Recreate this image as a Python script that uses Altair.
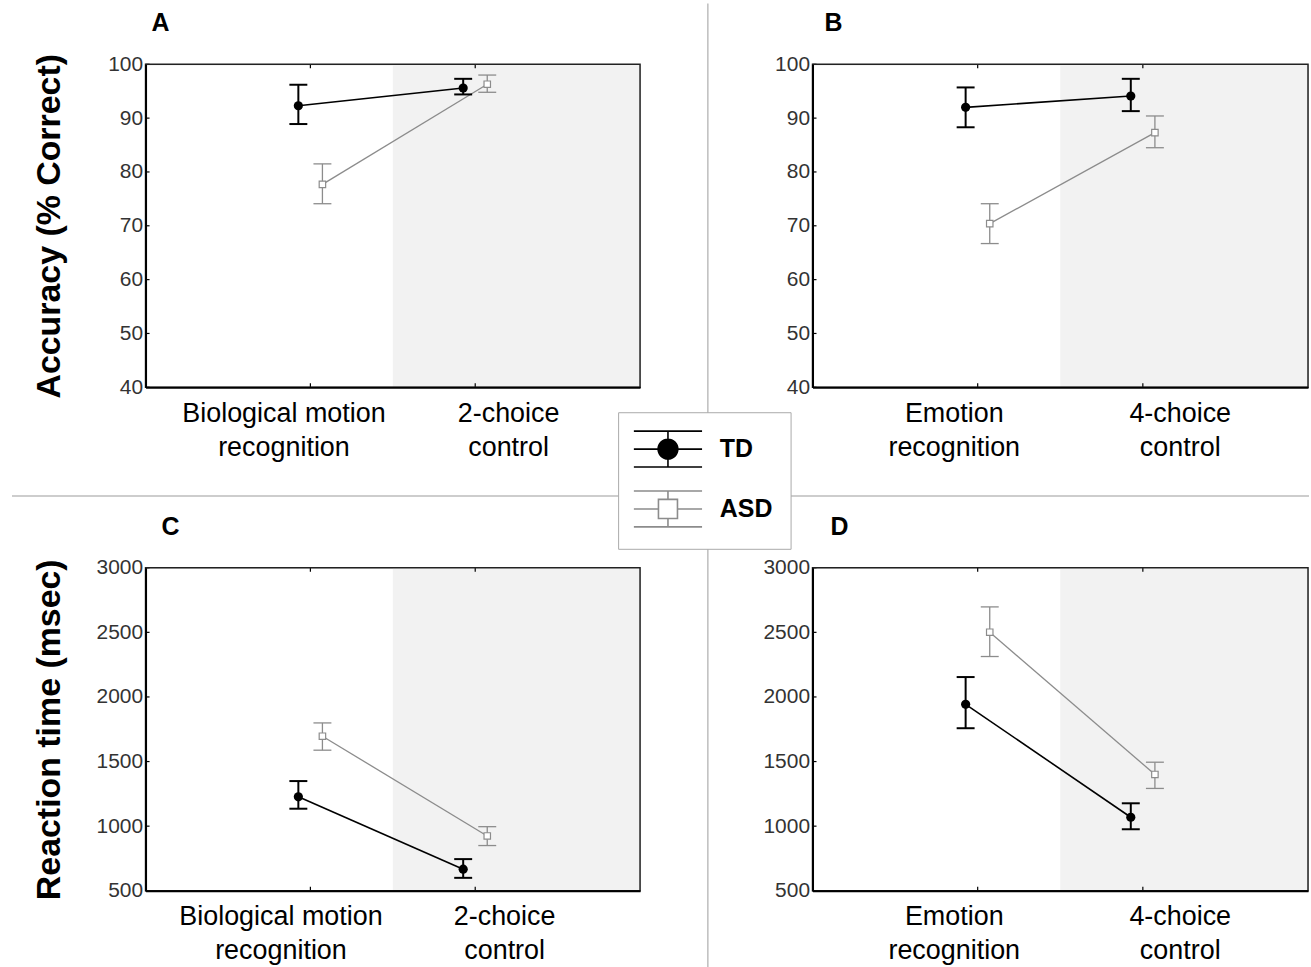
import json
import altair as alt
import pandas as pd

FONT = "Liberation Sans"

group_names = ["TD", "ASD"]
positions = [1, 2]
group_offsets = [-0.073, 0.073]
shade_range = [1.5, 3.0]

acc_ticks = [40, 50, 60, 70, 80, 90, 100]
rt_ticks = [500, 1000, 1500, 2000, 2500, 3000]

# Panel A: accuracy, biological motion
a_labels = [["Biological motion", "recognition"], ["2-choice", "control"]]
a_td_mean = [92.3, 95.6]
a_td_lo = [88.9, 94.4]
a_td_hi = [96.2, 97.3]
a_asd_mean = [77.7, 96.3]
a_asd_lo = [74.1, 94.8]
a_asd_hi = [81.5, 98.0]

# Panel B: accuracy, emotion
b_labels = [["Emotion", "recognition"], ["4-choice", "control"]]
b_td_mean = [92.0, 94.1]
b_td_lo = [88.3, 91.3]
b_td_hi = [95.7, 97.3]
b_asd_mean = [70.4, 87.3]
b_asd_lo = [66.7, 84.5]
b_asd_hi = [74.1, 90.4]

# Panel C: reaction time, biological motion
c_labels = [["Biological motion", "recognition"], ["2-choice", "control"]]
c_td_mean = [1227, 667]
c_td_lo = [1135, 600]
c_td_hi = [1349, 745]
c_asd_mean = [1696, 924]
c_asd_lo = [1588, 850]
c_asd_hi = [1799, 996]

# Panel D: reaction time, emotion
d_labels = [["Emotion", "recognition"], ["4-choice", "control"]]
d_td_mean = [1943, 1069]
d_td_lo = [1758, 976]
d_td_hi = [2154, 1177]
d_asd_mean = [2501, 1400]
d_asd_lo = [2313, 1292]
d_asd_hi = [2697, 1495]

TD_COLOR = "black"
ASD_COLOR = "#8c8c8c"
H = 324

td_path = ("M-1.9,-1H1.9M-1.9,0H1.9M-1.9,1H1.9M0,-1V1"
           "M0.55,0A0.55,0.55,0,1,1,-0.55,0A0.55,0.55,0,1,1,0.55,0Z")
asd_path = ("M-1.9,-1H1.9M-1.9,1H1.9M-1.9,0H-0.53M0.53,0H1.9"
            "M0,-1V-0.53M0,0.53V1M-0.53,-0.53H0.53V0.53H-0.53Z")


def make_df(td_mean, td_lo, td_hi, asd_mean, asd_lo, asd_hi):
    rows = []
    for gi, (m, lo, hi) in enumerate([(td_mean, td_lo, td_hi), (asd_mean, asd_lo, asd_hi)]):
        for i, p in enumerate(positions):
            rows.append({"group": group_names[gi], "pos": p,
                         "xpos": p + group_offsets[gi],
                         "mean": m[i], "lo": lo[i], "hi": hi[i]})
    return pd.DataFrame(rows)


def panel(df, labels, ticks, width, letter, letter_dx, y_title, title_pad,
          off1, off2, legend=False, dividers=False):
    xscale = alt.Scale(domain=[0, 3], nice=False, zero=False)
    yscale = alt.Scale(domain=[ticks[0], ticks[-1]], nice=False, zero=False)
    label_expr = f"datum.value == 1 ? {json.dumps(labels[0])} : {json.dumps(labels[1])}"
    xaxis = alt.Axis(values=positions, labelExpr=label_expr, title=None,
                     ticks=False, labelFontSize=27, labelFont=FONT,
                     labelColor="black", labelLineHeight=34, labelPadding=13,
                     labelLimit=400, zindex=1,
                     labelOffset={"condition": {"test": "datum.value == 1", "value": off1},
                                  "value": off2},
                     grid=False, domainColor="black", domainWidth=2)
    yaxis = alt.Axis(values=ticks, title=y_title if y_title else None, format="d",
                     ticks=False, labelFontSize=21, labelFont=FONT,
                     labelColor="#333", labelPadding=3, grid=False, zindex=1,
                     titleFontSize=34, titleFont=FONT, titleFontWeight="bold",
                     titleColor="black", titlePadding=title_pad,
                     domainColor="black", domainWidth=2, labelFlush=False)

    X = lambda f: alt.X(f, scale=xscale, axis=xaxis)
    Y = lambda f: alt.Y(f, scale=yscale, axis=yaxis)

    one = pd.DataFrame({"k": [0]})

    shade = alt.Chart(pd.DataFrame({"x0": [shade_range[0]], "x1": [shade_range[1]]})).mark_rect(
        color="#f2f2f2").encode(x=X("x0:Q"), x2="x1:Q", y=alt.value(0), y2=alt.value(H))

    border = alt.Chart(one).mark_rect(fillOpacity=0, stroke="#222", strokeWidth=1.5).encode(
        x=alt.value(0), x2=alt.value(width), y=alt.value(0), y2=alt.value(H))

    ytick = alt.Chart(pd.DataFrame({"t": ticks})).mark_rule(color="black", strokeWidth=1.2).encode(
        y=Y("t:Q"), x=alt.value(0), x2=alt.value(4))
    xtick_b = alt.Chart(pd.DataFrame({"p": positions})).mark_rule(color="black", strokeWidth=1.2).encode(
        x=X("p:Q"), y=alt.value(H - 4), y2=alt.value(H))
    xtick_t = alt.Chart(pd.DataFrame({"p": positions})).mark_rule(color="black", strokeWidth=1.2).encode(
        x=X("p:Q"), y=alt.value(0), y2=alt.value(4))

    letter_mark = alt.Chart(one).mark_text(
        text=letter, fontSize=25, fontWeight="bold", font=FONT, color="black",
        align="left", baseline="alphabetic").encode(x=alt.value(letter_dx), y=alt.value(-33))

    layers = [shade, ytick, xtick_b, xtick_t, letter_mark]

    if dividers:
        vline = alt.Chart(one).mark_rule(color="#bdbdbd", strokeWidth=1.5).encode(
            x=alt.value(564), y=alt.value(-61), y2=alt.value(906))
        hline = alt.Chart(one).mark_rule(color="#bdbdbd", strokeWidth=1.5).encode(
            x=alt.value(-134), x2=alt.value(1167), y=alt.value(433))
        layers = [vline, hline] + layers

    for g, col, lw, cap in [("ASD", ASD_COLOR, 1.3, 1.3), ("TD", TD_COLOR, 1.6, 2.0)]:
        b = alt.Chart(df).transform_filter(f"datum.group == '{g}'")
        layers.append(b.mark_line(color=col, strokeWidth=lw).encode(x=X("xpos:Q"), y=Y("mean:Q")))
        layers.append(b.mark_rule(color=col, strokeWidth=cap).encode(x=X("xpos:Q"), y=Y("lo:Q"), y2="hi:Q"))
        layers.append(b.mark_tick(color=col, orient="horizontal", size=18, thickness=cap, opacity=1).encode(
            x=X("xpos:Q"), y=Y("lo:Q")))
        layers.append(b.mark_tick(color=col, orient="horizontal", size=18, thickness=cap, opacity=1).encode(
            x=X("xpos:Q"), y=Y("hi:Q")))
        if g == "TD":
            layers.append(b.mark_circle(color=TD_COLOR, size=85, opacity=1).encode(
                x=X("xpos:Q"), y=Y("mean:Q")))
        else:
            layers.append(b.mark_square(fill="white", stroke=ASD_COLOR, strokeWidth=1.2, size=42,
                                        opacity=1).encode(x=X("xpos:Q"), y=Y("mean:Q")))

    layers.append(border)

    if legend:
        leg = alt.Legend(orient="none", legendX=474, legendY=349, title=None,
                         padding=18, symbolSize=1296, symbolStrokeWidth=1.6,
                         symbolOffset=13, labelOffset=33, labelFontSize=25,
                         labelFontWeight="bold", labelFont=FONT, labelColor="black",
                         rowPadding=16, strokeColor="#aaaaaa", fillColor="white",
                         symbolOpacity=1)
        dom = group_names
        lg = alt.Chart(df).transform_filter("false").mark_point(filled=True, opacity=1).encode(
            x=X("xpos:Q"), y=Y("mean:Q"),
            shape=alt.Shape("group:N", scale=alt.Scale(domain=dom, range=[td_path, asd_path]), legend=leg),
            fill=alt.Fill("group:N", scale=alt.Scale(domain=dom, range=["black", "white"]), legend=leg),
            stroke=alt.Stroke("group:N", scale=alt.Scale(domain=dom, range=[TD_COLOR, ASD_COLOR]), legend=leg),
        )
        layers.append(lg)

    return alt.layer(*layers).properties(width=width, height=H)


pA = panel(make_df(a_td_mean, a_td_lo, a_td_hi, a_asd_mean, a_asd_lo, a_asd_hi),
           a_labels, acc_ticks, 496, "A", 6, "Accuracy (% Correct)", 41, -27, 33,
           legend=True, dividers=True)
pB = panel(make_df(b_td_mean, b_td_lo, b_td_hi, b_asd_mean, b_asd_lo, b_asd_hi),
           b_labels, acc_ticks, 497, "B", 12, None, 0, -24, 37)
pC = panel(make_df(c_td_mean, c_td_lo, c_td_hi, c_asd_mean, c_asd_lo, c_asd_hi),
           c_labels, rt_ticks, 496, "C", 16, "Reaction time (msec)", 30, -30, 29)
pD = panel(make_df(d_td_mean, d_td_lo, d_td_hi, d_asd_mean, d_asd_lo, d_asd_hi),
           d_labels, rt_ticks, 497, "D", 18, None, 0, -24, 37)

chart = alt.concat(pA, pB, pC, pD, columns=2, bounds="flush",
                   spacing={"row": 181, "column": 173}).properties(
    padding={"left": 10, "top": 0, "right": 0, "bottom": 0}
).configure_view(stroke=None).configure(
    font=FONT, background="white"
)

chart.save("out.html", embed_options={"renderer": "svg", "actions": False})
